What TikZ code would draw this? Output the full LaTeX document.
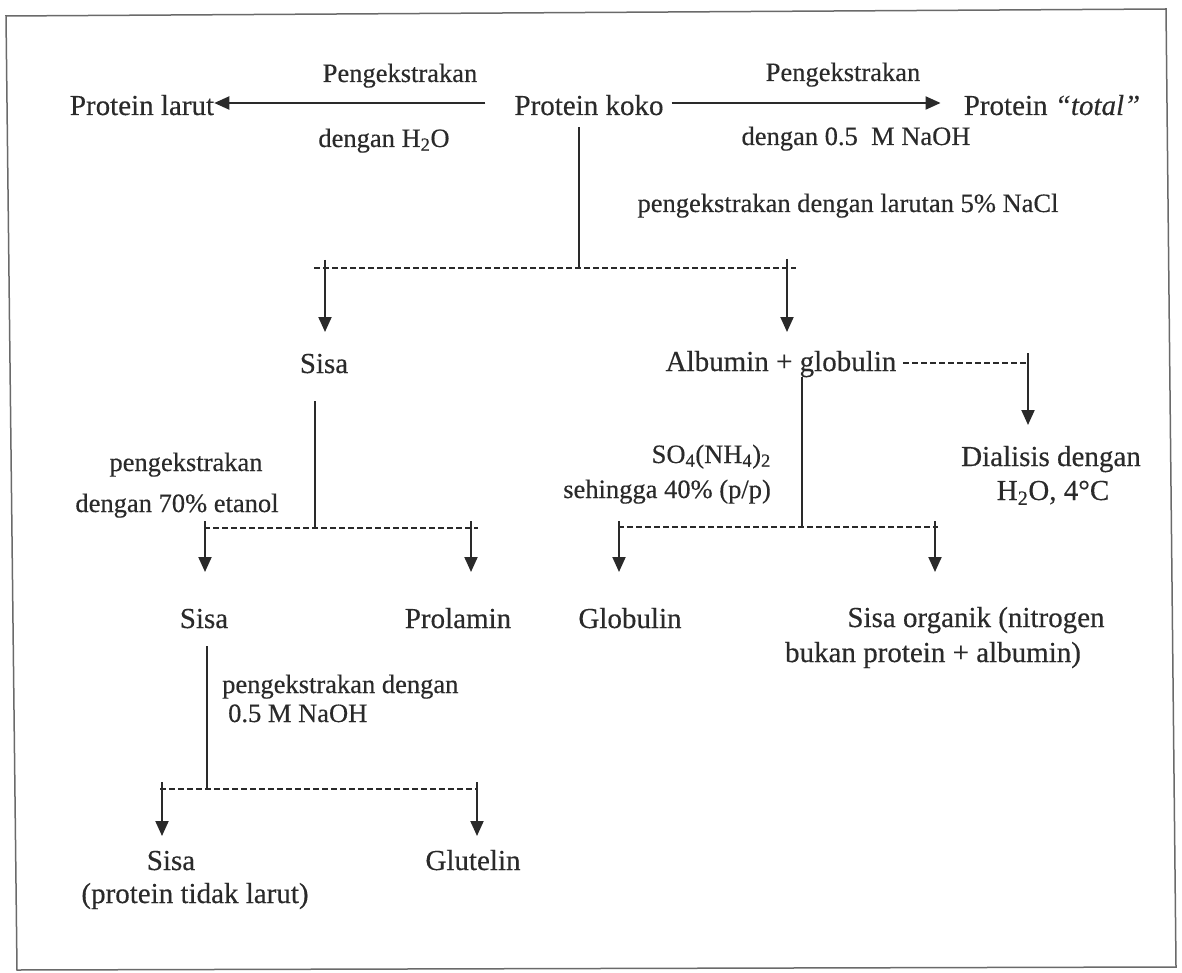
\documentclass[tikz,border=0pt]{standalone}
\usepackage{fontspec}
\setmainfont{Liberation Serif}[BoldFont=Liberation Serif, BoldFeatures={FakeBold=0.35}, BoldItalicFont=Liberation Serif Italic, BoldItalicFeatures={FakeBold=0.35}]
\usetikzlibrary{arrows.meta}
\definecolor{ink}{HTML}{2A2A2A}
\definecolor{framec}{HTML}{6A6A6A}
\begin{document}
\begin{tikzpicture}[x=1pt,y=-1pt,
  big/.style={font=\fontsize{29}{33}\selectfont\bfseries, text=ink, inner sep=0pt, anchor=base},
  small/.style={font=\fontsize{26.5}{30}\selectfont\bfseries, text=ink, inner sep=0pt, anchor=base},
  conn/.style={draw=ink, line width=2pt},
  arr/.style={conn, -{Triangle[length=15pt,width=13pt]}},
  dsh/.style={draw=ink, line width=2pt, dash pattern=on 6pt off 3pt}]
\useasboundingbox (0,0) rectangle (1182,973);
\fill[white] (0,0) rectangle (1182,973);
\draw[framec, line width=1.5pt] (6,16) -- (1166,9) -- (1176,967) -- (17,970) -- cycle;

% ---- row 1
\node[big] (larut) at (142,115) {Protein larut};
\node[big] (koko) at (589,115) {Protein koko};
\node[big] (total) at (1052,115) {Protein \textit{“total"}};
\node[small] (l1a) at (400,82) {Pengekstrakan};
\node[small] (l1b) at (384,147) {dengan H\textsubscript{2}O};
\node[small] (l2a) at (843,81) {Pengekstrakan};
\node[small] (l2b) at (856,145) {dengan 0.5\ \ M NaOH};
\node[small] (l3) at (848,212) {pengekstrakan dengan larutan 5\% NaCl};

\coordinate (ya) at (0,103);
\draw[arr, shorten <=29pt] (koko.west |- ya) -- (larut.east |- ya);
\draw[arr, shorten <=8pt, shorten >=23pt] (koko.east |- ya) -- (total.west |- ya);

% ---- split 1
\coordinate (j1) at (579,268);
\coordinate (b1l) at (314,268);
\coordinate (b1r) at (796,268);
\coordinate (t1l) at (325,260);
\coordinate (t1r) at (787,259);
\draw[conn, shorten <=12pt] (koko.south -| j1) -- (j1);
\draw[dsh] (b1l) -- (b1r);

\node[big] (sisa1) at (324,373) {Sisa};
\node[big] (alb) at (781,371) {Albumin + globulin};
\coordinate (e1l) at (325,332);
\coordinate (e1r) at (787,332);
\draw[arr] (t1l) -- (e1l);
\draw[arr] (t1r) -- (e1r);

% ---- dialysis branch
\coordinate (d1) at (903,363);
\coordinate (d2) at (1028,363);
\coordinate (d2t) at (1028,353);
\coordinate (d3) at (1028,425);
\draw[dsh] (d1) -- (d2);
\draw[arr] (d2t) -- (d3);
\node[big] (dial) at (1051,466) {Dialisis dengan};
\node[big] (dial2) at (1053,500) {H\textsubscript{2}O, 4°C};

% ---- sisa1 branch
\coordinate (j2) at (315,528);
\draw[conn, shorten <=28pt] (sisa1.south -| j2) -- (j2);
\coordinate (b2l) at (204,528);
\coordinate (b2r) at (478,528);
\draw[dsh] (b2l) -- (b2r);
\node[small] (l4a) at (186,471) {pengekstrakan};
\node[small] (l4b) at (177,512) {dengan 70\% etanol};
\coordinate (t2l) at (205,521);
\coordinate (t2r) at (471,521);
\coordinate (e2l) at (205,572);
\coordinate (e2r) at (471,572);
\draw[arr] (t2l) -- (e2l);
\draw[arr] (t2r) -- (e2r);
\node[big] (sisa2) at (204,628) {Sisa};
\node[big] (prol) at (458,628) {Prolamin};

% ---- albumin branch
\coordinate (j3) at (802,527);
\draw[conn] (alb.south -| j3) -- (j3);
\node[small, anchor=base east] (so4) at (771,463) {SO\textsubscript{4}(NH\textsubscript{4})\textsubscript{2}};
\node[small, anchor=base east] (seh) at (771,498) {sehingga 40\% (p/p)};
\coordinate (b3l) at (618,527);
\coordinate (b3r) at (938,527);
\draw[dsh] (b3l) -- (b3r);
\coordinate (t3l) at (619,521);
\coordinate (t3r) at (935,521);
\coordinate (e3l) at (619,572);
\coordinate (e3r) at (935,572);
\draw[arr] (t3l) -- (e3l);
\draw[arr] (t3r) -- (e3r);
\node[big] (glob) at (630,628) {Globulin};
\node[big] (org1) at (976,627) {Sisa organik (nitrogen};
\node[big] (org2) at (933,662) {bukan protein + albumin)};

% ---- sisa2 branch
\coordinate (j4) at (207,789);
\draw[conn, shorten <=18pt] (sisa2.south -| j4) -- (j4);
\node[small, anchor=base west] (l5a) at (222,693) {pengekstrakan dengan};
\node[small, anchor=base west] (l5b) at (228,722) {0.5 M NaOH};
\coordinate (b4l) at (160,789);
\coordinate (b4r) at (478,789);
\draw[dsh] (b4l) -- (b4r);
\coordinate (t4l) at (162,782);
\coordinate (t4r) at (477,782);
\coordinate (e4l) at (162,836);
\coordinate (e4r) at (477,836);
\draw[arr] (t4l) -- (e4l);
\draw[arr] (t4r) -- (e4r);
\node[big] (sisa3) at (171,870) {Sisa};
\node[big] (sisa3b) at (195,903) {(protein tidak larut)};
\node[big] (glut) at (473,870) {Glutelin};
\end{tikzpicture}
\end{document}
